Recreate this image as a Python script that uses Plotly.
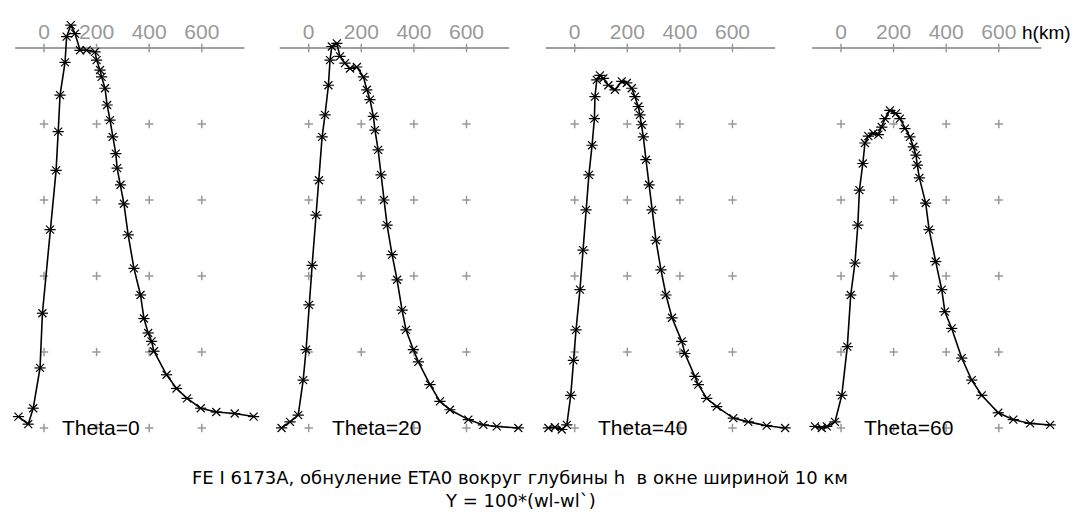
import plotly.graph_objects as go

# angle of each panel
THETA = [0, 20, 40, 60]

# h (km) and Y = 100*(wl-wl`)
H_T0 = [-97, -60, -41, -15, -6, 23, 46, 54, 61, 80, 86, 102, 118, 137, 162, 194, 200, 213,
        219, 232, 240, 251, 261, 273, 278, 291, 304, 320, 342, 367, 380, 396, 409, 418, 466,
        504, 544, 596, 655, 725, 797]
Y_T0 = [-4.85, -4.95, -4.74, -4.21, -3.49, -2.39, -1.61, -1.10, -0.62, -0.19, 0.15, 0.30, 0.19,
        -0.03, -0.03, -0.05, -0.16, -0.29, -0.38, -0.53, -0.75, -0.95, -1.17, -1.39, -1.58,
        -1.80, -2.05, -2.46, -2.90, -3.25, -3.56, -3.75, -3.86, -3.99, -4.30, -4.48, -4.61,
        -4.74, -4.79, -4.81, -4.85]

H_T20 = [-103, -71, -40, -21, -10, 1, 13, 28, 39, 51, 62, 75, 81, 88, 107, 119, 138, 157, 183,
         208, 221, 233, 246, 252, 264, 275, 286, 298, 317, 336, 355, 370, 398, 417, 461, 499,
         537, 607, 664, 715, 797]
Y_T20 = [-5.00, -4.92, -4.83, -4.37, -3.97, -3.38, -2.86, -2.20, -1.74, -1.17, -0.88, -0.49,
         -0.16, 0.02, 0.06, -0.11, -0.20, -0.27, -0.25, -0.38, -0.55, -0.68, -0.90, -1.08,
         -1.34, -1.67, -2.00, -2.33, -2.72, -3.05, -3.45, -3.71, -3.97, -4.13, -4.43, -4.65,
         -4.76, -4.89, -4.96, -4.98, -5.00]

H_T40 = [-100, -75, -49, -30, -15, -5, 5, 20, 32, 43, 54, 66, 75, 77, 84, 96, 109, 128, 153,
         179, 198, 217, 229, 242, 248, 255, 261, 271, 283, 294, 309, 328, 347, 370, 407, 419,
         457, 470, 502, 540, 603, 660, 730, 800]
Y_T40 = [-5.00, -4.99, -5.02, -4.96, -4.57, -4.11, -3.71, -3.18, -2.66, -2.13, -1.67, -1.28,
         -0.93, -0.64, -0.42, -0.36, -0.40, -0.49, -0.55, -0.44, -0.46, -0.53, -0.64, -0.77,
         -0.88, -1.01, -1.17, -1.47, -1.80, -2.13, -2.53, -2.92, -3.25, -3.55, -3.86, -4.02,
         -4.32, -4.43, -4.61, -4.72, -4.87, -4.92, -4.97, -5.00]

H_T60 = [-99, -73, -54, -23, 3, 24, 37, 53, 64, 70, 83, 91, 104, 123, 142, 155, 167, 186, 209,
         224, 243, 262, 275, 285, 290, 298, 322, 335, 360, 383, 395, 421, 459, 497, 535, 598,
         655, 719, 795]
Y_T60 = [-4.98, -5.00, -4.98, -4.92, -4.57, -3.93, -3.25, -2.83, -2.33, -1.87, -1.52, -1.25,
         -1.16, -1.12, -1.14, -1.04, -0.93, -0.82, -0.86, -0.93, -1.06, -1.17, -1.30, -1.41,
         -1.54, -1.71, -2.04, -2.39, -2.81, -3.18, -3.47, -3.69, -4.08, -4.37, -4.57, -4.80,
         -4.89, -4.94, -4.96]

CURVES = [(H_T0, Y_T0), (H_T20, Y_T20), (H_T40, Y_T40), (H_T60, Y_T60)]

TICK_H = [0, 200, 400, 600]
TICK_TEXT = ['0', '200', '400', '600']
GRID_Y = [0, -1, -2, -3, -4, -5]

TITLE_1 = 'FE I 6173A, обнуление ETA0 вокруг глубины h  в окне шириной 10 км'
TITLE_2 = 'Y = 100*(wl-wl`)'

# the page body has an 8px margin, so the figure is drawn 8px smaller
PAD = 8
W, H = 1080 - PAD, 514 - PAD
X0_PX = [44, 308.7, 574.7, 841]       # where h=0 falls in the picture
PX_PER_KM = 0.263
PANEL_W = 265.67
LEAD = 36                              # px from panel edge to h=0
X_RANGE = [-LEAD / PX_PER_KM, (PANEL_W - LEAD) / PX_PER_KM]
Y_RANGE = [-6.132, (48 - PAD) / 76]
FONT = 'Liberation Sans, Arial, sans-serif'
GRAY = '#999999'

fig = go.Figure()
grid_x = [h for h in TICK_H for _ in GRID_Y]
grid_y = [g for _ in TICK_H for g in GRID_Y]

for i, (hh, yy) in enumerate(CURVES):
	xa = 'x' if i == 0 else f'x{i+1}'
	fig.add_trace(go.Scatter(x=grid_x, y=grid_y, xaxis=xa, yaxis='y', mode='markers',
		marker=dict(symbol='cross-thin-open', size=6, color=GRAY, line=dict(color=GRAY, width=1.5)),
		hoverinfo='skip'))
	fig.add_trace(go.Scatter(x=hh, y=yy, xaxis=xa, yaxis='y', mode='lines+markers',
		line=dict(color='black', width=1.6),
		marker=dict(symbol='x-thin-open', size=8, color='black', line=dict(color='black', width=1.2)),
		name=f'Theta={THETA[i]}'))
	fig.add_trace(go.Scatter(x=hh, y=yy, xaxis=xa, yaxis='y', mode='markers',
		marker=dict(symbol='line-ew-open', size=8, color='black', line=dict(color='black', width=1.2)),
		hoverinfo='skip'))

	# top axis line
	fig.add_shape(type='line', xref=xa, yref='y', x0=-110, x1=762, y0=0, y1=0,
		line=dict(color='#a0a0a0', width=2), layer='below')

	fig.add_annotation(xref=xa, yref='y', x=61 if i == 0 else 81, y=-4.99,
		text=f'Theta={THETA[i]}', showarrow=False, xanchor='left', yanchor='middle',
		font=dict(family=FONT, size=21, color='black'))

	left = X0_PX[i] - PAD - LEAD
	fig.update_layout(**{('xaxis' if i == 0 else f'xaxis{i+1}'): dict(
		domain=[left / W, (left + PANEL_W) / W], range=X_RANGE,
		side='top', anchor='free', position=1 - 35 / H,
		tickvals=TICK_H, ticktext=TICK_TEXT, ticks='',
		tickfont=dict(family=FONT, size=21, color=GRAY),
		showgrid=False, zeroline=False, showline=False)})

fig.add_annotation(xref='x4', yref='y', x=684, y=0.21, text='h(km)', showarrow=False,
	xanchor='left', yanchor='middle', borderpad=0,
	font=dict(family=FONT, size=19, color='black'))

fig.add_annotation(xref='paper', yref='paper', x=(520 - PAD) / W, y=1 - (477 - PAD) / H,
	text=TITLE_1, showarrow=False, xanchor='center', yanchor='middle',
	font=dict(family='DejaVu Sans, sans-serif', size=18, color='black'))
fig.add_annotation(xref='paper', yref='paper', x=(520 - PAD) / W, y=1 - (500 - PAD) / H,
	text=TITLE_2, showarrow=False, xanchor='center', yanchor='middle',
	font=dict(family='DejaVu Sans, sans-serif', size=18, color='black'))

fig.update_layout(
	width=W, height=H, margin=dict(l=0, r=0, t=0, b=0),
	paper_bgcolor='white', plot_bgcolor='white', showlegend=False,
	yaxis=dict(domain=[0, 1], range=Y_RANGE, visible=False)
)

fig.write_html('out.html')
